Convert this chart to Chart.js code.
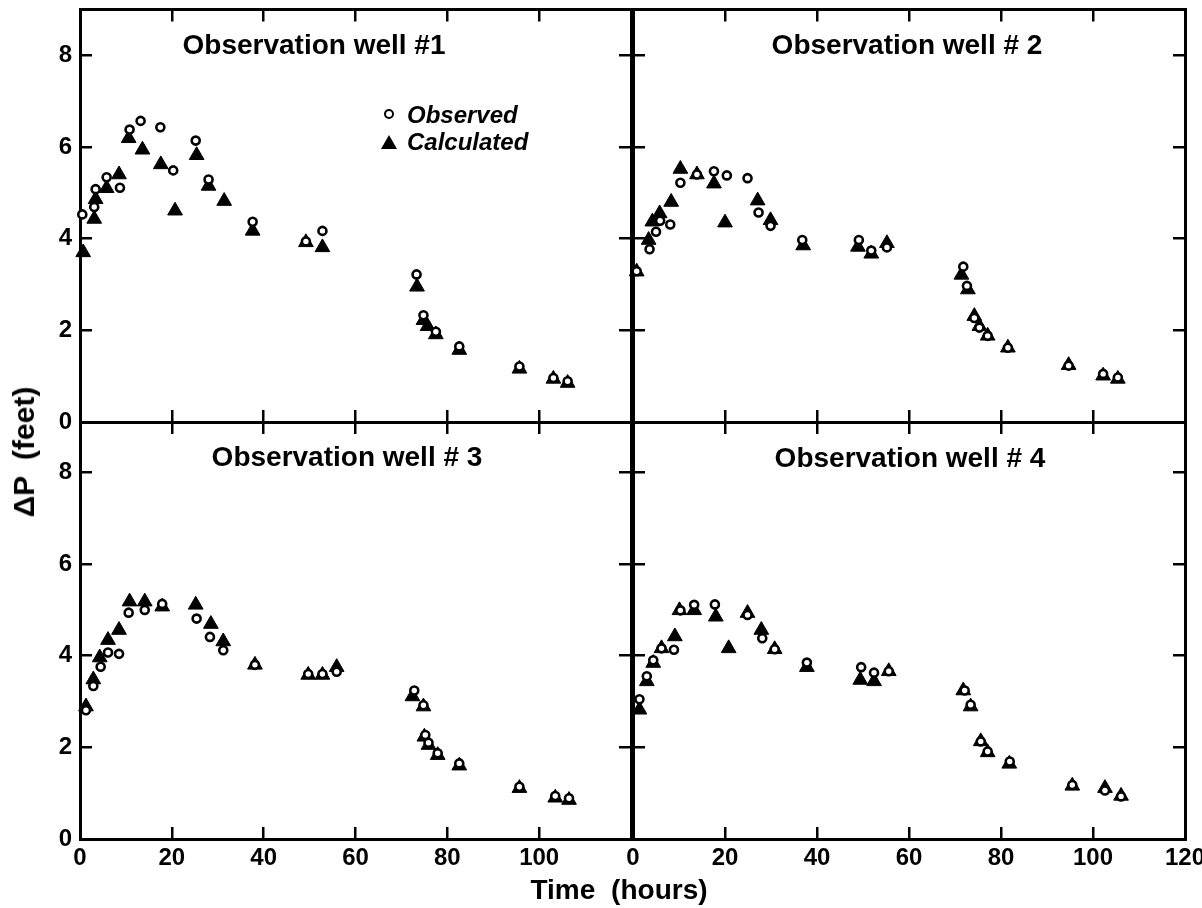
<!DOCTYPE html>
<html>
<head>
<meta charset="utf-8">
<script src="https://cdn.jsdelivr.net/npm/chart.js@4.4.1/dist/chart.umd.min.js"></script>
<style>
  body { margin: 0; background: #fff; }
  #wrap { position: relative; width: 1202px; height: 908px; overflow: hidden; font-family: "Liberation Sans", Arial, sans-serif; color: #000; }
  canvas { position: absolute; }
  .ttl { position: absolute; font-size: 28px; line-height: 28px; font-weight: bold; white-space: nowrap; transform: translateX(-50%); }
  .leg { position: absolute; font-size: 24px; line-height: 24px; font-weight: bold; font-style: italic; white-space: nowrap; }
  .dot { position: absolute; width: 10px; height: 10px; box-sizing: border-box; border: 2.5px solid #000; border-radius: 50%; background: #fff; }
  .tri { position: absolute; width: 0; height: 0; border-left: 8px solid transparent; border-right: 8px solid transparent; border-bottom: 14px solid #000; }
</style>
</head>
<body>
<div id="wrap">
  <canvas id="well1" width="651" height="440" style="left:0;top:0"></canvas>
  <canvas id="well2" width="589" height="440" style="left:613px;top:0"></canvas>
  <canvas id="well3" width="651" height="504" style="left:0;top:404px"></canvas>
  <canvas id="well4" width="589" height="504" style="left:613px;top:404px"></canvas>

  <div class="ttl" style="left:314px;top:31px">Observation well #1</div>
  <div class="ttl" style="left:907px;top:31px">Observation well # 2</div>
  <div class="ttl" style="left:347px;top:443px">Observation well # 3</div>
  <div class="ttl" style="left:910px;top:444px">Observation well # 4</div>

  <div class="dot" style="left:384px;top:109px"></div>
  <div class="leg" style="left:407px;top:103px">Observed</div>
  <div class="tri" style="left:381px;top:135px"></div>
  <div class="leg" style="left:407px;top:130px">Calculated</div>

  <div class="ttl" style="left:24px;top:437px;transform:translate(-50%,0) rotate(-90deg);font-size:30px;line-height:30px;word-spacing:8px">ΔP (feet)</div>
  <div class="ttl" style="left:619px;top:876px;word-spacing:8px">Time (hours)</div>
</div>

<script>
// axis ticks
const xTicks = [0, 20, 40, 60, 80, 100, 120];
const yTicks = [0, 2, 4, 6, 8];

// well 1
const well1ObsTime = [0.5, 3.1, 3.4, 5.8, 8.7, 10.8, 13.2, 17.5, 20.3, 25.2, 28.0, 37.6, 49.2, 52.8, 73.3, 74.8, 77.5, 82.6, 95.7, 103.1, 106.2];
const well1Obs = [4.53, 4.69, 5.08, 5.34, 5.11, 6.38, 6.57, 6.43, 5.49, 6.14, 5.29, 4.37, 3.94, 4.17, 3.22, 2.33, 1.97, 1.65, 1.21, 0.96, 0.89];
const well1CalcTime = [0.7, 3.1, 3.4, 5.8, 8.5, 10.6, 13.6, 17.6, 20.7, 25.4, 28.0, 31.4, 37.6, 49.2, 52.8, 73.4, 74.8, 75.7, 77.5, 82.6, 95.7, 103.1, 106.2];
const well1Calc = [3.70, 4.43, 4.86, 5.10, 5.40, 6.19, 5.94, 5.62, 4.61, 5.82, 5.15, 4.82, 4.17, 3.92, 3.81, 2.95, 2.22, 2.09, 1.91, 1.57, 1.16, 0.94, 0.85];

// well 2
const well2ObsTime = [0.8, 3.6, 5.0, 5.9, 8.1, 10.3, 13.9, 17.6, 20.4, 24.9, 27.3, 29.9, 36.8, 49.1, 51.8, 55.2, 71.8, 72.6, 74.2, 75.3, 77.1, 81.5, 94.7, 102.2, 105.4];
const well2Obs = [3.29, 3.77, 4.15, 4.39, 4.31, 5.22, 5.40, 5.47, 5.38, 5.32, 4.57, 4.28, 3.97, 3.97, 3.74, 3.81, 3.39, 2.97, 2.27, 2.06, 1.88, 1.62, 1.23, 1.05, 0.97];
const well2CalcTime = [0.8, 3.4, 4.2, 5.8, 8.3, 10.3, 13.9, 17.6, 20.0, 27.1, 29.9, 37.0, 48.9, 51.8, 55.2, 71.4, 72.8, 74.2, 75.3, 77.1, 81.5, 94.7, 102.2, 105.4];
const well2Calc = [3.28, 3.97, 4.37, 4.55, 4.80, 5.52, 5.40, 5.20, 4.35, 4.83, 4.40, 3.85, 3.82, 3.67, 3.90, 3.21, 2.89, 2.31, 2.09, 1.88, 1.62, 1.24, 1.01, 0.94];

// well 3
const well3ObsTime = [1.3, 2.9, 4.5, 6.1, 8.5, 10.6, 14.1, 17.9, 25.4, 28.3, 31.2, 38.1, 49.7, 52.8, 55.9, 72.8, 74.8, 75.2, 75.9, 77.9, 82.6, 95.7, 103.5, 106.5];
const well3Obs = [2.81, 3.34, 3.76, 4.07, 4.04, 4.94, 5.00, 5.13, 4.81, 4.41, 4.12, 3.80, 3.60, 3.60, 3.65, 3.24, 2.92, 2.27, 2.10, 1.87, 1.65, 1.14, 0.94, 0.89];
const well3CalcTime = [1.3, 2.9, 4.3, 6.1, 8.5, 10.8, 14.1, 17.9, 25.2, 28.5, 31.2, 38.1, 49.7, 52.8, 55.9, 72.4, 74.8, 75.0, 75.9, 77.9, 82.6, 95.7, 103.5, 106.5];
const well3Calc = [2.89, 3.48, 3.96, 4.34, 4.56, 5.18, 5.18, 5.07, 5.11, 4.69, 4.31, 3.80, 3.58, 3.58, 3.75, 3.11, 2.89, 2.23, 2.05, 1.83, 1.60, 1.11, 0.90, 0.85];

// well 4
const well4ObsTime = [1.4, 3.0, 4.4, 6.2, 8.9, 10.3, 13.3, 17.8, 24.9, 28.1, 30.8, 37.8, 49.6, 52.4, 55.6, 72.1, 73.4, 75.6, 77.1, 81.9, 95.5, 102.6, 106.1];
const well4Obs = [3.05, 3.55, 3.90, 4.16, 4.13, 4.99, 5.11, 5.12, 4.89, 4.38, 4.14, 3.85, 3.75, 3.63, 3.66, 3.24, 2.93, 2.13, 1.91, 1.69, 1.18, 1.06, 0.93];
const well4CalcTime = [1.4, 3.0, 4.4, 6.2, 9.1, 10.1, 13.3, 18.0, 20.8, 24.9, 27.9, 30.8, 37.8, 49.4, 52.4, 55.6, 71.8, 73.4, 75.6, 77.1, 81.8, 95.5, 102.6, 106.1];
const well4Calc = [2.82, 3.44, 3.84, 4.16, 4.42, 4.99, 4.99, 4.85, 4.16, 4.93, 4.56, 4.14, 3.75, 3.47, 3.44, 3.66, 3.24, 2.89, 2.13, 1.89, 1.64, 1.16, 1.11, 0.94];

const toPoints = (xs, ys) => xs.map((x, i) => ({x: x, y: ys[i]}));

// one axis; ticks point inward, size forced so the four panels line up
function axis(dir, pos, max, size, showLabels, hide120, pad) {
    return {
        type: 'linear',
        axis: dir,
        position: pos,
        min: 0,
        max: max,
        afterBuildTicks: (s) => {
            s.ticks = (dir === 'x' ? xTicks : yTicks).map(v => ({value: v}));
        },
        afterFit: (s) => {
            if (dir === 'x') s.height = size; else s.width = size;
            s.paddingLeft = 0; s.paddingRight = 0;
            s.paddingTop = 0; s.paddingBottom = 0;
        },
        grid: {drawOnChartArea: false, drawTicks: true, tickLength: -12, color: '#000', lineWidth: 2.5},
        border: {display: true, color: '#000', width: 3},
        ticks: {
            display: showLabels,
            autoSkip: false,
            maxRotation: 0,
            padding: pad,
            color: '#000',
            font: {family: 'Liberation Sans', size: 24, weight: 'bold'},
            callback: (v) => (hide120 && v === 120) ? '' : v
        }
    };
}

function makePanel(id, obsT, obs, calcT, calc, cfg) {
    new Chart(document.getElementById(id), {
        type: 'scatter',
        data: {
            datasets: [
                {
                    label: 'Observed',
                    data: toPoints(obsT, obs),
                    pointStyle: 'circle',
                    pointRadius: 4,
                    pointBorderWidth: 2.6,
                    pointBackgroundColor: '#fff',
                    pointBorderColor: '#000',
                    clip: false
                },
                {
                    label: 'Calculated',
                    data: toPoints(calcT, calc),
                    pointStyle: 'triangle',
                    pointRadius: 8.5,
                    pointBorderWidth: 1,
                    pointBackgroundColor: '#000',
                    pointBorderColor: '#000',
                    clip: false
                }
            ]
        },
        options: {
            responsive: false,
            animation: false,
            devicePixelRatio: 1,
            events: [],
            layout: {padding: 0},
            plugins: {legend: {display: false}, tooltip: {enabled: false}},
            scales: {
                x: axis('x', 'bottom', 120, cfg.bottom, cfg.xLabels, cfg.leftSide, 17),
                xTop: axis('x', 'top', 120, cfg.top, false, false, 0),
                y: axis('y', 'left', cfg.ymax, cfg.left, cfg.leftSide, false, 20),
                yRight: axis('y', 'right', cfg.ymax, cfg.right, false, false, 0)
            }
        }
    });
}

makePanel('well1', well1ObsTime, well1Obs, well1CalcTime, well1Calc,
    {left: 80, right: 20, top: 8, bottom: 18, ymax: 9, xLabels: false, leftSide: true});
makePanel('well2', well2ObsTime, well2Obs, well2CalcTime, well2Calc,
    {left: 20, right: 17, top: 8, bottom: 18, ymax: 9, xLabels: false, leftSide: false});
makePanel('well3', well3ObsTime, well3Obs, well3CalcTime, well3Calc,
    {left: 80, right: 20, top: 18, bottom: 69, ymax: 9.1, xLabels: true, leftSide: true});
makePanel('well4', well4ObsTime, well4Obs, well4CalcTime, well4Calc,
    {left: 20, right: 17, top: 18, bottom: 69, ymax: 9.1, xLabels: true, leftSide: false});
</script>
</body>
</html>
